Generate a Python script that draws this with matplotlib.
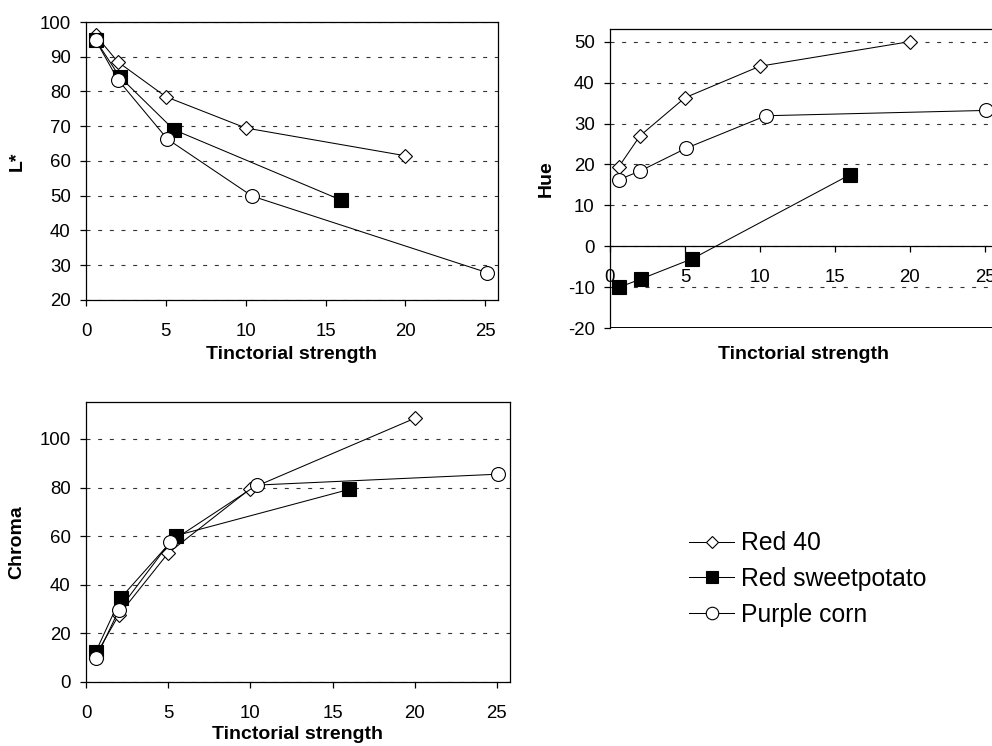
import matplotlib
matplotlib.use("Agg")
import matplotlib.pyplot as plt

# tinctorial strength for each colorant
red40_x = [0.6, 2, 5, 10, 20]
sweet_x = [0.6, 2.1, 5.5, 16]
corn_x = [0.6, 2.0, 5.1, 10.4, 25.1]

# L*
red40_L = [96.2, 88.5, 78.5, 69.5, 61.5]
sweet_L = [94.8, 84.3, 69.0, 48.7]
corn_L = [94.8, 83.4, 66.3, 49.9, 27.9]

# Hue
red40_hue = [19.5, 27.0, 36.3, 44.0, 50.0]
sweet_hue = [-10.0, -7.9, -3.0, 17.5]
corn_hue = [16.3, 18.4, 24.0, 31.9, 33.2]

# Chroma
red40_C = [11.0, 27.5, 53.0, 79.5, 108.5]
sweet_C = [12.4, 34.4, 60.2, 79.2]
corn_C = [9.6, 29.5, 57.4, 81.0, 85.5]

series_names = ['Red 40', 'Red sweetpotato', 'Purple corn']
x_ticks = [0, 5, 10, 15, 20, 25]


def style_axis(ax, ylim, yticks, ylabel):
    ax.set_xlim(0, 25.8)
    ax.set_ylim(*ylim)
    ax.set_xticks(x_ticks)
    ax.set_yticks(yticks)
    ax.tick_params(direction='out', length=4.5, width=0.9, labelsize=13.4, colors='black')
    ax.tick_params(axis='x', pad=12)
    ax.tick_params(axis='y', pad=6.5)
    ax.yaxis.grid(True, linestyle=(0, (3.6, 6.9)), linewidth=0.8, color='#333333')
    ax.set_axisbelow(True)
    ax.set_ylabel(ylabel, fontsize=14, fontweight='bold', labelpad=10)
    for sp in ax.spines.values():
        sp.set_linewidth(0.9)


def draw_series(ax, ys):
    styles = [
        dict(marker='D', markersize=7, markerfacecolor='white'),
        dict(marker='s', markersize=10, markerfacecolor='black'),
        dict(marker='o', markersize=10, markerfacecolor='white'),
    ]
    xs = [red40_x, sweet_x, corn_x]
    for x, y, st, name in zip(xs, ys, styles, series_names):
        ax.plot(x, y, color='black', linewidth=0.75, markeredgecolor='black',
                markeredgewidth=0.8, label=name, clip_on=False, zorder=3, **st)


def main():
    plt.rcParams['font.family'] = ['Liberation Sans', 'DejaVu Sans']
    plt.rcParams['axes.unicode_minus'] = False
    fig = plt.figure(figsize=(9.92, 7.46), dpi=100)

    # L*
    ax1 = fig.add_axes([0.0867, 0.5979, 0.4153, 0.3726])
    draw_series(ax1, [red40_L, sweet_L, corn_L])
    style_axis(ax1, (20, 100), range(20, 101, 10), 'L*')
    ax1.set_xlabel('Tinctorial strength', fontsize=14, fontweight='bold')
    ax1.xaxis.set_label_coords(0.5, -0.165)

    # Hue, x axis crosses at zero
    ax2 = fig.add_axes([0.6149, 0.5599, 0.3901, 0.4008])
    draw_series(ax2, [red40_hue, sweet_hue, corn_hue])
    style_axis(ax2, (-20, 53), range(-20, 51, 10), 'Hue')
    ax2.yaxis.label.set_position((0, 0.5))
    ax2.set_ylabel('Hue', fontsize=14, fontweight='bold', labelpad=9)
    ax2.spines['bottom'].set_position(('data', 0))
    ax2.axhline(-20, color='black', linewidth=1.4, zorder=2.5)
    ax2.set_xlabel('Tinctorial strength', fontsize=14, fontweight='bold')
    ax2.xaxis.set_label_coords(0.5, -0.06)

    # Chroma
    ax3 = fig.add_axes([0.0867, 0.0862, 0.4274, 0.3745])
    draw_series(ax3, [red40_C, sweet_C, corn_C])
    style_axis(ax3, (0, 115.1), range(0, 101, 20), 'Chroma')
    ax3.set_xlabel('Tinctorial strength', fontsize=14, fontweight='bold')
    ax3.xaxis.set_label_coords(0.5, -0.16)

    handles, labels = ax1.get_legend_handles_labels()
    fig.legend(handles, labels, loc='upper left', bbox_to_anchor=(0.685, 0.301),
               frameon=False, fontsize=17.8, handlelength=1.8, handletextpad=0.3,
               labelspacing=0.47, markerscale=0.9, borderaxespad=0)

    fig.savefig('out.png', dpi=100)


if __name__ == "__main__":
    main()
